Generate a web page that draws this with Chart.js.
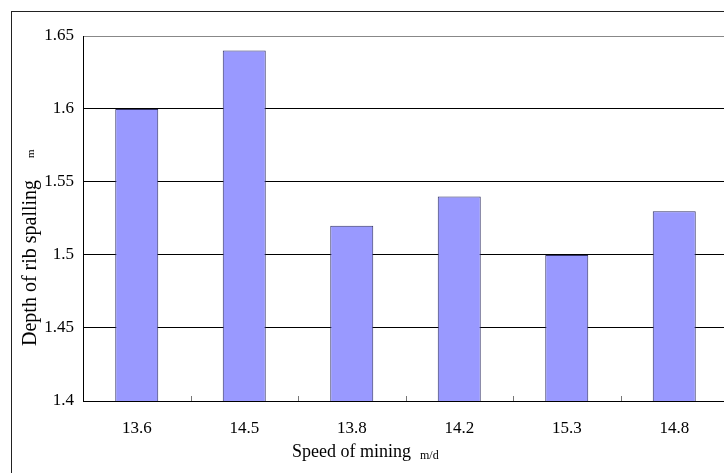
<!DOCTYPE html>
<html>
<head>
<meta charset="utf-8">
<script src="https://cdn.jsdelivr.net/npm/chart.js@4/dist/chart.umd.min.js"></script>
<style>
  html, body { margin: 0; padding: 0; background: #fff; overflow: hidden; }
  #frame { position: absolute; left: 11px; top: 11px; width: 900px; height: 700px; border: 1px solid #222; }
  #wrap { position: absolute; left: 0; top: 0; width: 740px; height: 473px; }
</style>
</head>
<body>
<div id="frame"></div>
<div id="wrap"><canvas id="ribChart" width="740" height="473"></canvas></div>
<script>
const speeds = ["13.6", "14.5", "13.8", "14.2", "15.3", "14.8"];
const depths = [1.60, 1.64, 1.52, 1.54, 1.50, 1.53];
const yTicks = [1.4, 1.45, 1.5, 1.55, 1.6, 1.65];

const serif = "'Liberation Serif', 'DejaVu Serif', serif";

// axis titles with a smaller unit after them, plus the little inner ticks
const extras = {
  id: "extras",
  afterDraw(chart) {
    const ctx = chart.ctx;
    const area = chart.chartArea;
    const x = chart.scales.x;
    ctx.save();

    // inner tick marks between categories
    ctx.strokeStyle = "#777";
    ctx.lineWidth = 1;
    for (let i = 0; i < speeds.length - 1; i++) {
      const px = Math.round((x.getPixelForValue(i) + x.getPixelForValue(i + 1)) / 2) + 0.5;
      ctx.beginPath();
      ctx.moveTo(px, area.bottom);
      ctx.lineTo(px, area.bottom - 5);
      ctx.stroke();
    }

    // x title
    ctx.fillStyle = "#000";
    ctx.textBaseline = "alphabetic";
    ctx.textAlign = "left";
    ctx.font = "18px " + serif;
    const main = "Speed of mining";
    ctx.fillText(main, 292, 457);
    const w = ctx.measureText(main).width;
    ctx.font = "12px " + serif;
    ctx.fillText("m/d", 292 + w + 9, 459);

    // y title
    ctx.translate(36, 0);
    ctx.rotate(-Math.PI / 2);
    ctx.font = "20px " + serif;
    const yMain = "Depth of rib spalling";
    ctx.fillText(yMain, -346, 0);
    const yw = ctx.measureText(yMain).width;
    ctx.font = "11px " + serif;
    ctx.fillText("m", -346 + yw + 22, -2);
    ctx.restore();
  }
};

new Chart(document.getElementById("ribChart"), {
  type: "bar",
  data: {
    labels: speeds,
    datasets: [{
      data: depths,
      backgroundColor: "#9999FF",
      borderColor: "#333366",
      borderWidth: 1,
      barPercentage: 0.4,
      categoryPercentage: 1.0
    }]
  },
  options: {
    responsive: false,
    animation: false,
    events: [],
    layout: { padding: { left: 0, right: 12, top: 36, bottom: 0 } },
    plugins: { legend: { display: false }, tooltip: { enabled: false } },
    scales: {
      x: {
        grid: { display: false },
        border: { color: "#000", width: 1 },
        ticks: { color: "#000", font: { family: serif, size: 17 }, padding: 9 },
        afterFit(scale) { scale.height = 72; }
      },
      y: {
        min: 1.4,
        max: 1.65,
        afterBuildTicks(scale) { scale.ticks = yTicks.map(v => ({ value: v })); },
        grid: {
          color: ctx => (ctx.tick && ctx.tick.value === 1.65 ? "#888" : "#000"),
          lineWidth: 1,
          drawTicks: false
        },
        border: { color: "#000", width: 1 },
        ticks: {
          color: "#000",
          font: { family: serif, size: 17 },
          padding: 9,
          callback: v => String(v)
        },
        afterFit(scale) { scale.width = 83; }
      }
    }
  },
  plugins: [extras]
});
</script>
</body>
</html>
